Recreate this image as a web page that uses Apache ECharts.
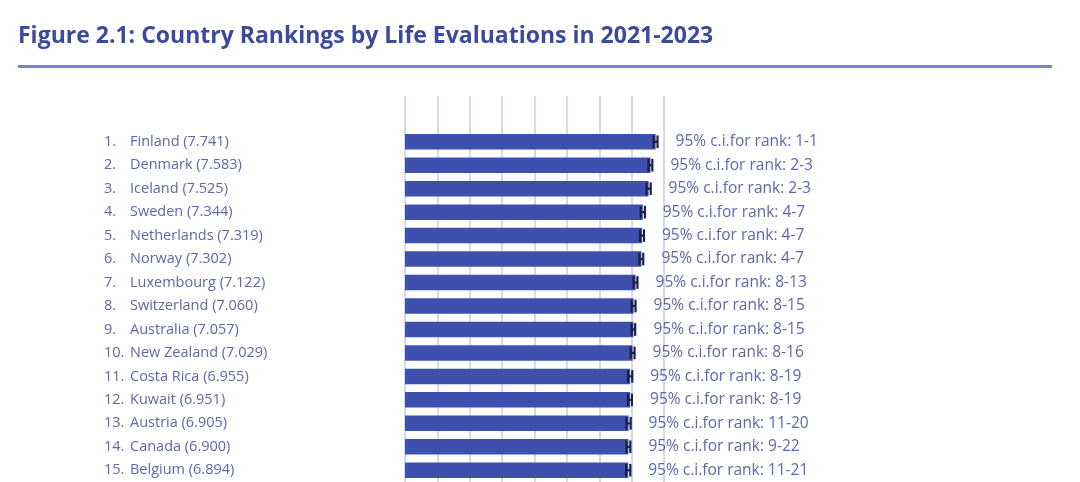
<!DOCTYPE html>
<html>
<head>
<meta charset="utf-8">
<script src="https://cdn.jsdelivr.net/npm/echarts@6/dist/echarts.min.js"></script>
<style>
html,body{margin:0;padding:0;background:#fff;}
#chart{width:1080px;height:482px;}
</style>
</head>
<body>
<div id="chart"></div>
<script>
const ranks = ['1.', '2.', '3.', '4.', '5.', '6.', '7.', '8.', '9.', '10.', '11.', '12.', '13.', '14.', '15.'];
const countries = ['Finland', 'Denmark', 'Iceland', 'Sweden', 'Netherlands', 'Norway', 'Luxembourg', 'Switzerland', 'Australia', 'New Zealand', 'Costa Rica', 'Kuwait', 'Austria', 'Canada', 'Belgium'];
const scores = [7.741, 7.583, 7.525, 7.344, 7.319, 7.302, 7.122, 7.060, 7.057, 7.029, 6.955, 6.951, 6.905, 6.900, 6.894];
const ciLower = [7.68, 7.52, 7.46, 7.28, 7.26, 7.24, 7.06, 7.00, 7.00, 6.97, 6.89, 6.89, 6.84, 6.84, 6.83];
const ciUpper = [7.80, 7.64, 7.59, 7.41, 7.38, 7.36, 7.18, 7.12, 7.11, 7.09, 7.02, 7.01, 6.97, 6.96, 6.96];
const rankCI = ['1-1', '2-3', '2-3', '4-7', '4-7', '4-7', '8-13', '8-15', '8-15', '8-16', '8-19', '8-19', '11-20', '9-22', '11-21'];
const xTicks = [0, 1, 2, 3, 4, 5, 6, 7, 8];

const textColor = '#5e68a9';
const font = 'Open Sans';

const chart = echarts.init(document.getElementById('chart'));
chart.setOption({
  animation: false,
  graphic: [
    {
      type: 'text', left: 18, top: 25,
      style: { text: 'Figure 2.1: Country Rankings by Life Evaluations in 2021-2023', fill: '#3b4a9c', font: 'bold 23px "Open Sans"' }
    },
    {
      type: 'rect', shape: { x: 18, y: 65, width: 1034, height: 3 },
      style: { fill: '#7d85c8' }
    }
  ],
  grid: [
    { left: 405, width: 259, top: 96, bottom: 0 },
    { left: 405, width: 259, top: 130, bottom: 0 }
  ],
  xAxis: [
    {
      gridIndex: 0, type: 'value', min: xTicks[0], max: xTicks[xTicks.length - 1], interval: 1,
      axisLine: { show: false }, axisTick: { show: false }, axisLabel: { show: false },
      splitLine: { show: true, lineStyle: { color: '#c9cce8', width: 1.5 } }
    },
    {
      gridIndex: 1, type: 'value', min: xTicks[0], max: xTicks[xTicks.length - 1],
      axisLine: { show: false }, axisTick: { show: false }, axisLabel: { show: false },
      splitLine: { show: false }
    }
  ],
  yAxis: [
    { gridIndex: 0, type: 'value', show: false },
    {
      gridIndex: 1, type: 'category', inverse: true, data: countries,
      axisLine: { show: false }, axisTick: { show: false },
      axisLabel: {
        align: 'left', margin: 301,
        formatter: function (v, i) { return '{n|' + ranks[i] + '}{c|' + v + ' (' + scores[i].toFixed(3) + ')}'; },
        rich: {
          n: { width: 26, color: textColor, fontFamily: font, fontSize: 14.5 },
          c: { color: textColor, fontFamily: font, fontSize: 14.5 }
        }
      }
    }
  ],
  series: [
    {
      type: 'bar', xAxisIndex: 1, yAxisIndex: 1, data: scores,
      barWidth: '66%',
      itemStyle: { color: '#3e50ad' },
      label: {
        show: true, position: 'right', distance: 20,
        color: textColor, fontFamily: font, fontSize: 15.5,
        formatter: function (p) { return '95% c.i.for rank: ' + rankCI[p.dataIndex]; }
      },
      z: 2
    },
    {
      type: 'custom', xAxisIndex: 1, yAxisIndex: 1,
      data: countries.map(function (c, i) { return [i, ciLower[i], ciUpper[i]]; }),
      encode: { y: 0, x: [1, 2] },
      renderItem: function (params, api) {
        const idx = api.value(0);
        const lo = api.coord([api.value(1), idx]);
        const hi = api.coord([api.value(2), idx]);
        const h = api.size([0, 1])[1] * 0.27;
        const st = { stroke: '#1c2045', lineWidth: 2.2 };
        return {
          type: 'group',
          children: [
            { type: 'line', shape: { x1: lo[0], y1: lo[1], x2: hi[0], y2: hi[1] }, style: st },
            { type: 'line', shape: { x1: lo[0], y1: lo[1] - h, x2: lo[0], y2: lo[1] + h }, style: st },
            { type: 'line', shape: { x1: hi[0], y1: hi[1] - h, x2: hi[0], y2: hi[1] + h }, style: st }
          ]
        };
      },
      z: 3
    }
  ]
});
</script>
</body>
</html>
